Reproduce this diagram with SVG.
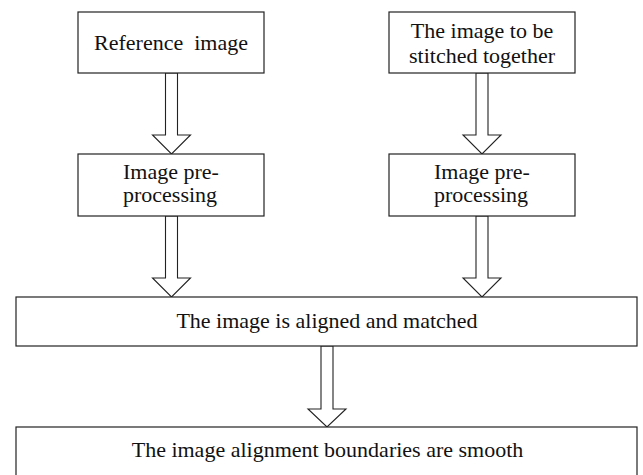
<svg xmlns="http://www.w3.org/2000/svg" width="643" height="475" viewBox="0 0 643 475">
  <style>
    .box { fill: #ffffff; stroke: #222222; stroke-width: 1.2; }
    .arrow { fill: #ffffff; stroke: #222222; stroke-width: 1.1; stroke-linejoin: miter; }
    .label { font-family: "Liberation Serif", "Times New Roman", Times, serif; font-size: 22px; fill: #111111; }
    .mid { text-anchor: middle; }
  </style>
  <rect width="643" height="475" fill="#ffffff"/>

  <!-- hollow block arrows between the steps -->
  <g id="connectors">
    <polygon class="arrow" points="165.5,73 177.5,73 177.5,135 190.5,135 171.5,154 152.5,135 165.5,135"/>
    <polygon class="arrow" points="476,73 488,73 488,135 501,135 482,154 463,135 476,135"/>
    <polygon class="arrow" points="165.5,216 177.5,216 177.5,278 190.5,278 171.5,297 152.5,278 165.5,278"/>
    <polygon class="arrow" points="476,216 488,216 488,278 501,278 482,297 463,278 476,278"/>
    <polygon class="arrow" points="321,346 333,346 333,409 346,409 327,427 308,409 321,409"/>
  </g>

  <g id="reference-image">
    <rect class="box" x="78" y="12" width="186" height="61"/>
    <text class="label mid" x="171" y="50" xml:space="preserve">Reference  image</text>
  </g>

  <g id="image-to-stitch">
    <rect class="box" x="389" y="12" width="186" height="61"/>
    <text class="label mid" x="482" y="38">The image to be</text>
    <text class="label mid" x="482" y="63">stitched together</text>
  </g>

  <g id="preprocess-left">
    <rect class="box" x="78" y="154" width="186" height="62"/>
    <text class="label" x="123" y="179">Image pre-</text>
    <text class="label" x="123" y="202">processing</text>
  </g>

  <g id="preprocess-right">
    <rect class="box" x="389" y="154" width="186" height="62"/>
    <text class="label" x="434" y="179">Image pre-</text>
    <text class="label" x="434" y="202">processing</text>
  </g>

  <g id="align-match">
    <rect class="box" x="16" y="297" width="621" height="49"/>
    <text class="label mid" x="327" y="328">The image is aligned and matched</text>
  </g>

  <g id="smooth-boundaries">
    <rect class="box" x="16" y="427" width="621" height="60"/>
    <text class="label mid" x="327.5" y="457">The image alignment boundaries are smooth</text>
  </g>
</svg>
